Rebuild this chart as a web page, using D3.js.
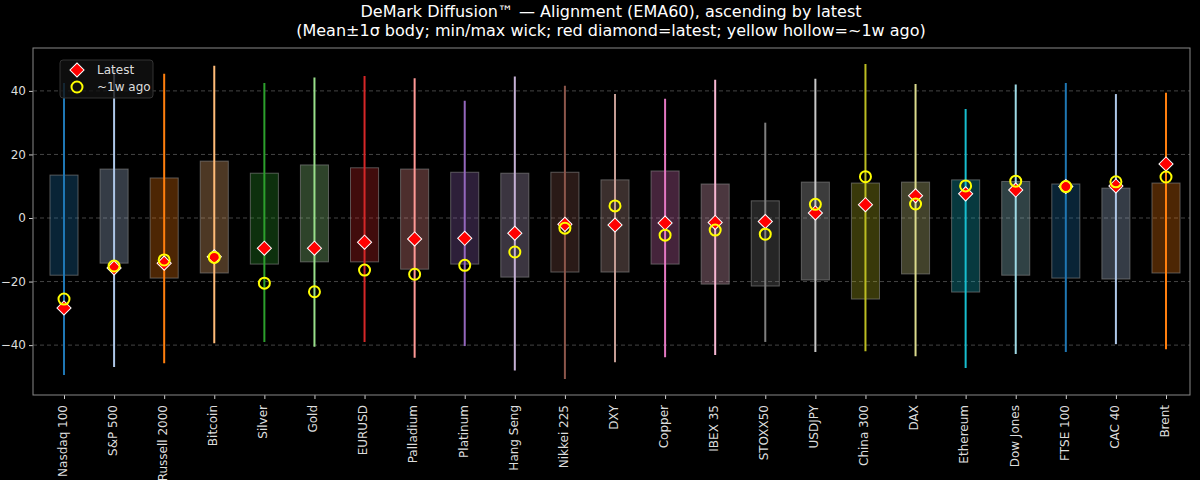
<!DOCTYPE html>
<html><head><meta charset="utf-8">
<script src="https://cdn.jsdelivr.net/npm/d3@7"></script>
<style>body{margin:0;background:#000}</style></head>
<body><svg id="c" width="1200" height="480"></svg>
<script>
const categories=["Nasdaq 100","S&P 500","Russell 2000","Bitcoin","Silver","Gold","EURUSD","Palladium","Platinum","Hang Seng","Nikkei 225","DXY","Copper","IBEX 35","STOXX50","USDJPY","China 300","DAX","Ethereum","Dow Jones","FTSE 100","CAC 40","Brent"];
const wickMax=[42.5,46.6,45.4,47.9,42.5,44.2,44.7,44,36.9,44.5,41.6,39,37.5,43.5,30,43.8,48.5,42.2,34.3,42,42.5,39,39.4];
const wickMin=[-49.4,-46.9,-45.7,-39.4,-39,-40.5,-39,-44,-40.3,-48,-50.7,-45.4,-43.8,-43.1,-39,-42.2,-41.9,-43.5,-47.2,-42.8,-42.2,-39.7,-41.3];
const boxHigh=[13.5,15.4,12.6,17.9,14.1,16.7,15.8,15.4,14.4,14.1,14.4,12,14.8,10.7,5.4,11.3,11,11.3,12,11.5,10.7,9.4,11];
const boxLow=[-18,-14.2,-18.9,-17.3,-14.5,-13.8,-13.8,-16.1,-14.5,-18.6,-17,-17,-14.5,-20.8,-21.4,-19.5,-25.5,-17.6,-23.3,-18,-18.9,-19.2,-17.3];
const latest=[-28.3,-15.7,-14.2,-12.2,-9.5,-9.5,-7.6,-6.6,-6.4,-4.8,-2,-2.2,-1.6,-1.4,-1.1,1.6,4.2,7,7.6,8.8,9.9,10.1,17];
const weekAgo=[-25.5,-15.1,-13.2,-12.4,-20.5,-23.2,-16.4,-17.7,-14.9,-10.7,-3.2,3.8,-5.4,-3.8,-5.1,4.3,13,4.4,10.1,11.6,9.9,11.4,12.9];
const yTicks=[-40,-20,0,20,40];
const palette=["#1f77b4","#aec7e8","#ff7f0e","#ffbb78","#2ca02c","#98df8a","#d62728","#ff9896","#9467bd","#c5b0d5","#8c564b","#c49c94","#e377c2","#f7b6d2","#7f7f7f","#c7c7c7","#bcbd22","#dbdb8d","#17becf","#9edae5"];

const svg=d3.select("#c");
const L=33,R=1190,T=48,B=395;
svg.append("rect").attr("width",1200).attr("height",480).attr("fill","#000");
const x=d3.scalePoint().domain(categories).range([64,1166]);
const y=d3.scaleLinear().domain([-55.7,53.5]).range([B,T]);
const step=x.step(), bw=step*0.56;
const col=i=>palette[i%palette.length];

svg.append("g").selectAll("line").data(yTicks).join("line")
 .attr("x1",L).attr("x2",R).attr("y1",d=>y(d)).attr("y2",d=>y(d))
 .attr("stroke","#555").attr("stroke-dasharray","4,3").attr("stroke-width",0.8);

const ya=svg.append("g").attr("transform",`translate(${L},0)`).call(d3.axisLeft(y).tickValues(yTicks).tickSize(4).tickPadding(3));
const xa=svg.append("g").attr("transform",`translate(0,${B})`).call(d3.axisBottom(x).tickSize(4).tickPadding(4));
[ya,xa].forEach(a=>{a.select(".domain").remove();a.selectAll("line").attr("stroke","#ccc");a.selectAll("text").attr("fill","#ddd").attr("font-family","DejaVu Sans").attr("font-size",12);});
xa.selectAll("text").attr("transform","rotate(-90)").attr("text-anchor","end").attr("dx","-0.5em").attr("dy","-0.1em").attr("x",-4).attr("y",0).style("dominant-baseline","middle");

const g=svg.append("g");
categories.forEach((c,i)=>{
  const cx=x(c);
  g.append("rect").attr("x",cx-bw/2).attr("width",bw).attr("y",y(boxHigh[i])).attr("height",y(boxLow[i])-y(boxHigh[i]))
   .attr("fill",col(i)).attr("fill-opacity",0.3).attr("stroke","#888").attr("stroke-opacity",0.6).attr("stroke-width",1);
  g.append("line").attr("x1",cx).attr("x2",cx).attr("y1",y(wickMax[i])).attr("y2",y(wickMin[i])).attr("stroke",col(i)).attr("stroke-width",2);
});
g.selectAll(".lat").data(categories).join("rect").attr("class","lat")
 .attr("x",-5).attr("y",-5).attr("width",10).attr("height",10)
 .attr("transform",(d,i)=>`translate(${x(d)},${y(latest[i])}) rotate(45)`)
 .attr("fill","red").attr("stroke","#fff").attr("stroke-width",1);
g.selectAll(".wk").data(categories).join("circle").attr("class","wk")
 .attr("cx",d=>x(d)).attr("cy",(d,i)=>y(weekAgo[i])).attr("r",5.5)
 .attr("fill","none").attr("stroke","#ffff00").attr("stroke-width",2);

svg.append("rect").attr("x",L).attr("y",T).attr("width",R-L).attr("height",B-T).attr("fill","none").attr("stroke","#888").attr("stroke-width",1);

const lg=svg.append("g");
lg.append("rect").attr("x",60).attr("y",60).attr("width",93).attr("height",38).attr("rx",3).attr("fill","#111").attr("fill-opacity",0.8).attr("stroke","#333");
lg.append("rect").attr("x",-5).attr("y",-5).attr("width",10).attr("height",10).attr("transform","translate(77,70) rotate(45)").attr("fill","red").attr("stroke","#fff");
lg.append("circle").attr("cx",77).attr("cy",87).attr("r",5.5).attr("fill","none").attr("stroke","#ff0").attr("stroke-width",2);
lg.append("text").attr("x",97).attr("y",74).text("Latest");
lg.append("text").attr("x",97).attr("y",91).text("~1w ago");
lg.selectAll("text").attr("fill","#ddd").attr("font-family","DejaVu Sans").attr("font-size",12);

const tt=svg.append("g").attr("font-family","DejaVu Sans").attr("font-size",16).attr("fill","#fff").attr("text-anchor","middle");
tt.append("text").attr("x",611).attr("y",17).text("DeMark Diffusion™ — Alignment (EMA60), ascending by latest");
tt.append("text").attr("x",611).attr("y",36).text("(Mean±1σ body; min/max wick; red diamond=latest; yellow hollow=~1w ago)");
</script></body></html>
